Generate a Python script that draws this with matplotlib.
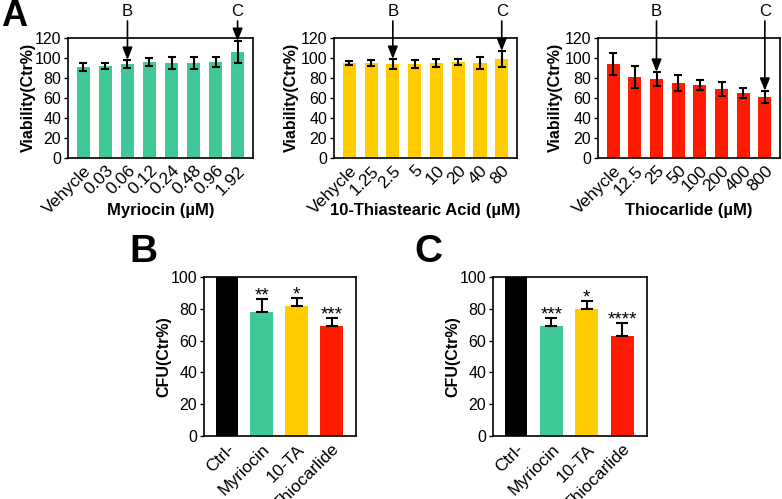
import matplotlib
matplotlib.use("Agg")
import matplotlib.pyplot as plt
import matplotlib.transforms as mtransforms
import numpy as np

plt.rcParams['font.family'] = ['Liberation Sans', 'DejaVu Sans']

# ---- Data ----
myr_labels = ["Vehycle", "0.03", "0.06", "0.12", "0.24", "0.48", "0.96", "1.92"]
myr_vals = [91, 92, 94, 96, 95, 95, 96, 106]
myr_err = [4, 3, 4, 4, 6, 6, 5, 11]

ta_labels = ["Vehycle", "1.25", "2.5", "5", "10", "20", "40", "80"]
ta_vals = [95, 95, 94, 94, 95, 96, 95, 99]
ta_err = [2, 3, 5, 4, 4, 3, 6, 8]

thio_labels = ["Vehycle", "12.5", "25", "50", "100", "200", "400", "800"]
thio_vals = [94, 81, 79, 75, 73, 69, 65, 61]
thio_err = [11, 11, 7, 8, 5, 7, 5, 6]

cfu_labels = ["Ctrl-", "Myriocin", "10-TA", "Thiocarlide"]
cfuB_vals = [100, 78, 82, 69]
cfuB_err = [0, 8, 5, 5]
cfuB_sig = ["", "**", "*", "***"]
cfuC_vals = [100, 69, 80, 63]
cfuC_err = [0, 5, 5, 8]
cfuC_sig = ["", "***", "*", "****"]

GREEN = "#40C896"
YELLOW = "#FFCC00"
RED = "#FF1A00"
BLACK = "#000000"

W, H = 782, 499
fig = plt.figure(figsize=(W / 100, H / 100), dpi=100)


def ax_px(l, t, r, b):
    return fig.add_axes([l / W, 1 - b / H, (r - l) / W, (b - t) / H])


YFS = 11.5
XFS = 12.5
LFS = 11.5


def style(ax):
    for s in ax.spines.values():
        s.set_linewidth(1.2)
    ax.tick_params(axis='y', labelsize=YFS, length=3, width=1.0, pad=2)
    ax.tick_params(axis='x', labelsize=XFS, length=0, pad=4)


def panelA(ax, l, r, labels, vals, err, color, xlabel, idxB, idxC, ylab_off):
    x = np.arange(len(labels))
    ax.bar(x, vals, width=0.6, color=color, zorder=1)
    ax.errorbar(x, vals, yerr=err, fmt='none', ecolor='black', elinewidth=1.5,
                capsize=3, capthick=1.5, zorder=2)
    ax.set_xlim(-0.7, 7.7)
    ax.set_ylim(0, 120)
    ax.set_yticks(range(0, 121, 20))
    ax.set_xticks(x)
    ax.set_xticklabels(labels, rotation=45, ha='right', rotation_mode='anchor')
    ax.set_xlabel(xlabel, fontsize=12, fontweight='bold', va='center')
    ax.xaxis.set_label_coords(0.5, (157.5 - 210) / 119.5)
    ax.set_ylabel("Viability(Ctr%)", fontsize=LFS, fontweight='bold', va='center')
    ax.yaxis.set_label_coords(ylab_off / (r - l), 0.5)
    style(ax)
    blend = mtransforms.blended_transform_factory(ax.transData, fig.transFigure)
    for idx, lab in ((idxB, "B"), (idxC, "C")):
        top = vals[idx] + err[idx]
        ax.annotate("", xy=(idx, top), xycoords='data',
                    xytext=(idx, 1 - 21 / H), textcoords=blend,
                    arrowprops=dict(arrowstyle='-|>,head_length=0.75,head_width=0.3',
                                    color='black', lw=1.2, shrinkA=0, shrinkB=0),
                    annotation_clip=False)
        ax.text(idx, 1 - 11.5 / H, lab, transform=blend,
                ha='center', va='center', fontsize=12)


l, r = 68, 253
axA1 = ax_px(l, 38, r, 157.5)
panelA(axA1, l, r, myr_labels, myr_vals, myr_err, GREEN, "Myriocin (µM)", 2, 7, -40)
l, r = 334, 517
axA2 = ax_px(l, 38, r, 157.5)
panelA(axA2, l, r, ta_labels, ta_vals, ta_err, YELLOW, "10-Thiastearic Acid (µM)", 2, 7, -43)
l, r = 598, 780
axA3 = ax_px(l, 38, r, 157.5)
panelA(axA3, l, r, thio_labels, thio_vals, thio_err, RED, "Thiocarlide (µM)", 2, 7, -43)


def panelBC(ax, l, r, vals, err, sig, ylab_off):
    x = np.arange(len(cfu_labels))
    colors = [BLACK, GREEN, YELLOW, RED]
    ax.bar(x, vals, width=0.64, color=colors, zorder=1)
    ax.errorbar(x[1:], vals[1:], yerr=[np.zeros(3), err[1:]], fmt='none',
                ecolor='black', elinewidth=1.5, capsize=4, capthick=1.5, zorder=2)
    for xi, v, e, s in zip(x, vals, err, sig):
        if s:
            ax.text(xi, v + e - 1.0, s, ha='center', va='baseline', fontsize=13.5)
    ax.set_xlim(-0.65, 3.7)
    ax.set_ylim(0, 100)
    ax.set_yticks(range(0, 101, 20))
    ax.set_xticks(x)
    ax.set_xticklabels(cfu_labels, rotation=45, ha='right', rotation_mode='anchor')
    ax.set_ylabel("CFU(Ctr%)", fontsize=LFS, fontweight='bold', va='center')
    ax.yaxis.set_label_coords(ylab_off / (r - l), 0.5)
    style(ax)


l, r = 204, 356
axB = ax_px(l, 277, r, 436)
panelBC(axB, l, r, cfuB_vals, cfuB_err, cfuB_sig, -40)
l, r = 493, 647
axC = ax_px(l, 277, r, 436)
panelBC(axC, l, r, cfuC_vals, cfuC_err, cfuC_sig, -40)

fig.text(1 / W, 1 - 17 / H, "A", fontsize=26, fontweight='bold', va='center', ha='left')
fig.text(129 / W, 1 - 252 / H, "B", fontsize=28, fontweight='bold', va='center', ha='left')
fig.text(414 / W, 1 - 252 / H, "C", fontsize=28, fontweight='bold', va='center', ha='left')

fig.savefig("out.png", dpi=100)
